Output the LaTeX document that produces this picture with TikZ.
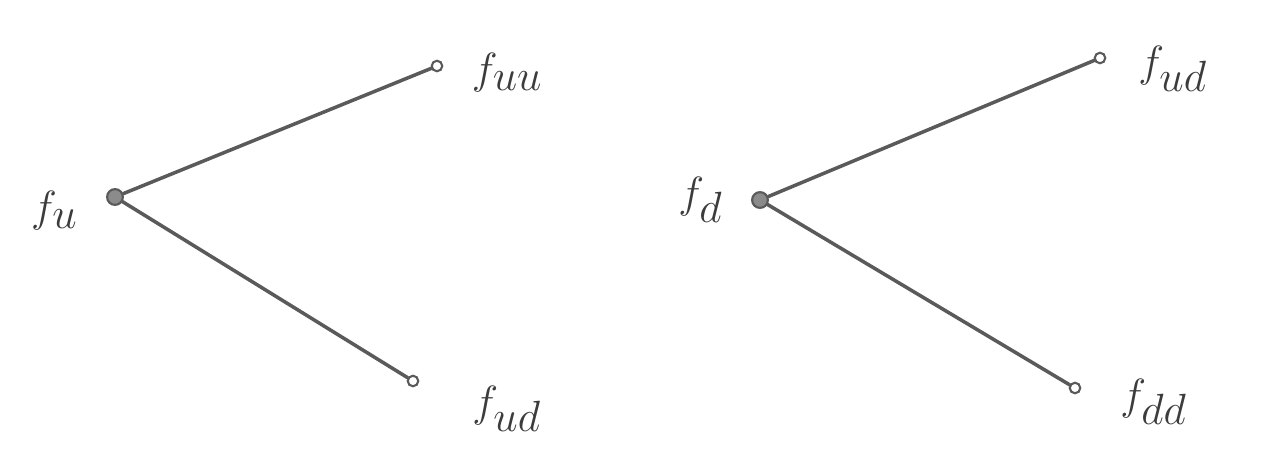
\documentclass[tikz,border=0pt]{standalone}
\usepackage{amsmath}
\usetikzlibrary{positioning}
\definecolor{pencil}{HTML}{5A5A5A}
\definecolor{lead}{HTML}{3C3C3C}
\tikzset{
  root/.style={circle,draw=pencil,fill=pencil!70,line width=1.2pt,inner sep=0pt,minimum size=9pt},
  leaf/.style={circle,draw=pencil,fill=white,line width=1.2pt,inner sep=0pt,minimum size=6pt},
  branch/.style={draw=pencil,line width=2pt,line cap=round},
  lab/.style={text=lead,font=\fontsize{40}{42}\selectfont,inner sep=0pt}
}
\begin{document}
\begin{tikzpicture}[x=0.02cm,y=-0.02cm]
\useasboundingbox (0,0) rectangle (1261,454);
% left tree
\node[root] (u) at (115,197) {};
\node[leaf] (uu) at (437,66) {};
\node[leaf] (ud) at (413,381) {};
\draw[branch] (u)--(uu); \draw[branch] (u)--(ud);
\node[lab,left=16pt of u,yshift=-8pt] {$f_u$};
\node[lab,right=16pt of uu,yshift=-4pt] {$f_{uu}$};
\node[lab,right=30pt of ud,yshift=-16pt] {$f_{ud}$};
% right tree
\node[root] (d) at (760,200) {};
\node[leaf] (du) at (1100,58) {};
\node[leaf] (dd) at (1075,388) {};
\draw[branch] (d)--(du); \draw[branch] (d)--(dd);
\node[lab,left=16pt of d] {$f_d$};
\node[lab,right=18pt of du,yshift=-6pt] {$f_{ud}$};
\node[lab,right=22pt of dd,yshift=-8pt] {$f_{dd}$};
\end{tikzpicture}
\end{document}
